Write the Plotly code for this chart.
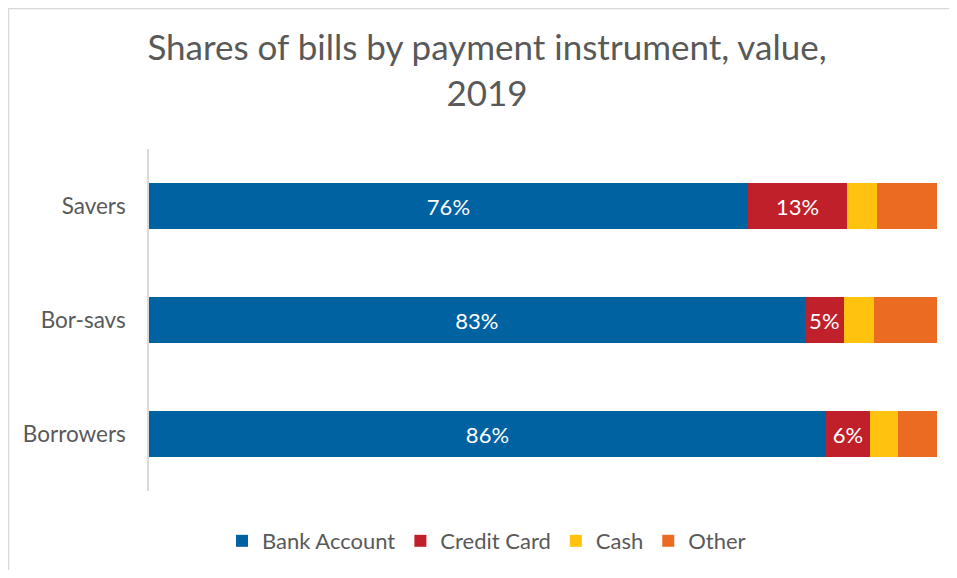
import plotly.graph_objects as go

categories = ["Borrowers", "Bor-savs", "Savers"]
bank_account = [85.9, 83.2, 76.0]
credit_card = [5.6, 5.0, 12.6]
cash = [3.5, 3.8, 3.8]
other = [5.0, 8.0, 7.6]
series_names = ["Bank Account", "Credit Card", "Cash", "Other"]
colors = ["#0062A0", "#C0202A", "#FFC20E", "#EC6B23"]
show_labels = [True, True, False, False]

FONT = "Lato"
W, H = 941, 562
L, R, T, B = 141, 12, 141, 79
PW, PH = W - L - R, H - T - B

fig = go.Figure()
for name, vals, col, lab in zip(series_names, [bank_account, credit_card, cash, other], colors, show_labels):
    fig.add_trace(go.Bar(
        y=categories, x=vals, name=name, orientation="h",
        marker=dict(color=col, line=dict(width=0)),
        text=[f"{round(v)}%" for v in vals] if lab else None,
        textposition="inside" if lab else "none",
        insidetextanchor="middle",
        textfont=dict(color="white", size=22, family=FONT),
    ))

fig.update_layout(
    barmode="stack",
    bargap=0.6,
    width=W, height=H,
    margin=dict(l=L, r=R, t=T, b=B, autoexpand=False),
    paper_bgcolor="white", plot_bgcolor="white",
    title=dict(text="Shares of bills by payment instrument, value,<br>2019",
               x=479 / W, xanchor="center", y=1 - 52 / H, yanchor="middle",
               font=dict(family=FONT, size=35, color="#595959")),
    xaxis=dict(range=[0, 100], visible=False, fixedrange=True),
    yaxis=dict(showline=True, linecolor="#D9D9D9", linewidth=1.5, ticks="",
               tickfont=dict(family=FONT, size=22.5, color="#595959"),
               ticklabelstandoff=17, showgrid=False),
    legend=dict(orientation="h", x=403 / W, xanchor="center", y=-50 / PH, yanchor="middle",
                font=dict(family=FONT, size=22, color="#595959"),
                traceorder="normal", itemwidth=30),
    uniformtext=dict(mode=False),
    showlegend=True,
)
fig.add_shape(type="rect", xref="paper", yref="paper",
              x0=(-L + 0.5) / PW, x1=(PW + R + 20) / PW,
              y0=(-B - 20) / PH, y1=(PH + T - 0.5) / PH,
              line=dict(color="#D9D9D9", width=1.5), fillcolor="rgba(0,0,0,0)", layer="below")

fig.write_html("out.html")
